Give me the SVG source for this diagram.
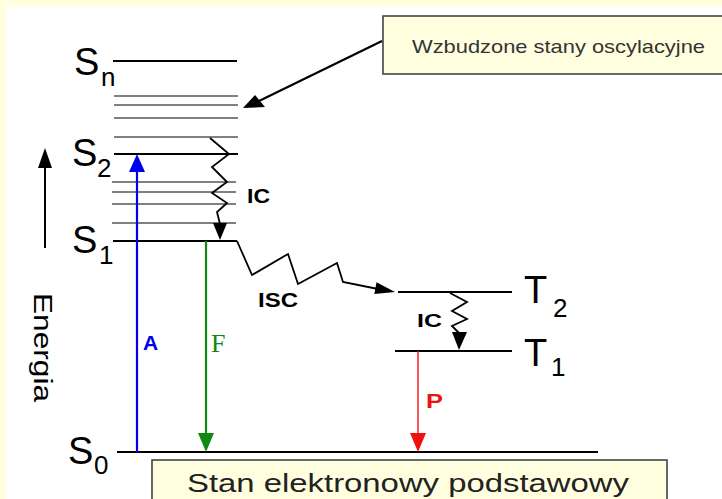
<svg xmlns="http://www.w3.org/2000/svg" width="722" height="499" viewBox="0 0 722 499">
<style>
.lvl{stroke:#000;stroke-width:2.2;fill:none}
.vib{stroke:#808080;stroke-width:2;fill:none}
.lab{font-family:"Liberation Sans",Arial,sans-serif;fill:#000}
.big{font-size:38px}
.sub{font-size:26px}
.bold{font-family:"Liberation Sans",Arial,sans-serif;font-weight:bold}
.zz{stroke:#000;stroke-width:1.8;fill:none;stroke-linejoin:miter}
.box{fill:#FFFFE0;stroke:#444;stroke-width:1.6}
</style>
<rect x="0" y="0" width="722" height="499" fill="#fff"/>
<rect x="0" y="0" width="722" height="7" fill="#FFFFE0"/>
<rect x="0" y="0" width="6" height="499" fill="#FFFFE0"/>

<g id="box-top">
<rect class="box" x="383" y="16" width="345" height="58"/>
<text x="412" y="53" font-family="Liberation Sans,Arial,sans-serif" font-size="19" fill="#333" textLength="293" lengthAdjust="spacingAndGlyphs">Wzbudzone stany oscylacyjne</text>
</g>

<g id="box-bottom">
<rect class="box" x="152" y="460" width="515" height="50"/>
<text x="187" y="492" font-family="Liberation Sans,Arial,sans-serif" font-size="26" fill="#222" textLength="442" lengthAdjust="spacingAndGlyphs">Stan elektronowy podstawowy</text>
</g>

<g id="energy-axis">
<line x1="45" y1="248" x2="45" y2="165" stroke="#000" stroke-width="2"/>
<polygon points="45,148 38,168 52,168" fill="#000"/>
<text class="lab" transform="translate(34,293) rotate(90)" font-size="25" textLength="109" lengthAdjust="spacingAndGlyphs">Energia</text>
</g>

<g id="Sn">
<line class="lvl" x1="113" y1="61" x2="237" y2="61"/>
<text class="lab big" x="74" y="75">S</text>
<text class="lab sub" x="101" y="86">n</text>
</g>
<g id="vib-upper">
<line class="vib" x1="114" y1="96" x2="238" y2="96"/>
<line class="vib" x1="114" y1="105" x2="238" y2="105"/>
<line class="vib" x1="114" y1="118" x2="238" y2="118"/>
<line class="vib" x1="114" y1="137" x2="238" y2="137"/>
</g>
<g id="S2">
<line class="lvl" x1="114" y1="154" x2="238" y2="154"/>
<text class="lab big" x="72" y="166">S</text>
<text class="lab sub" x="97" y="177">2</text>
</g>
<g id="vib-lower">
<line class="vib" x1="112" y1="182" x2="236" y2="182"/>
<line class="vib" x1="112" y1="192" x2="236" y2="192"/>
<line class="vib" x1="112" y1="204" x2="236" y2="204"/>
<line class="vib" x1="112" y1="223" x2="236" y2="223"/>
</g>
<g id="S1">
<line class="lvl" x1="113" y1="241" x2="237" y2="241"/>
<text class="lab big" x="72" y="253">S</text>
<text class="lab sub" x="99" y="264">1</text>
</g>
<g id="S0">
<line class="lvl" x1="117" y1="452" x2="598" y2="452"/>
<text class="lab big" x="68" y="464">S</text>
<text class="lab sub" x="94" y="474">0</text>
</g>
<g id="T2">
<line class="lvl" x1="398" y1="292" x2="512" y2="292"/>
<text class="lab big" x="524" y="303">T</text>
<text class="lab sub" x="553" y="317">2</text>
</g>
<g id="T1">
<line class="lvl" x1="395" y1="351" x2="512" y2="351"/>
<text class="lab big" x="524" y="366">T</text>
<text class="lab sub" x="551" y="376">1</text>
</g>

<g id="connectors">
<path d="M382,41 Q322,70 259,101" stroke="#000" stroke-width="2.2" fill="none"/>
<polygon points="243,108 255,95 265,107" fill="#000"/>
<line x1="137" y1="452" x2="137" y2="170" stroke="#0000EE" stroke-width="2.2"/>
<polygon points="137,154 129,172 145,172" fill="#0000EE"/>
<line x1="206" y1="241" x2="206" y2="436" stroke="#118811" stroke-width="2.2"/>
<polygon points="206,452 198,433 214,433" fill="#118811"/>
<line x1="418" y1="351" x2="418" y2="436" stroke="#EE1111" stroke-width="1.4"/>
<polygon points="418,452 410,433 426,433" fill="#EE1111"/>
<path class="zz" d="M210,138 L229,154 L212,167 L227,182 L212,193 L227,203 L217,212 L220,224"/>
<polygon points="213,223 227,223 220,240" fill="#000"/>
<path class="zz" d="M237,241 L252,275 L288,254 L298,284 L337,263 L343,282 L378,289"/>
<polygon points="395,292 376.5,282.3 374.3,294.1" fill="#000"/>
<path class="zz" d="M450,293 L467,302 L452,311 L467,319 L452,326 L460,334"/>
<polygon points="452,332 467,332 459,350" fill="#000"/>
</g>

<g id="labels">
<text class="bold" x="143" y="350" font-size="21" fill="#0000EE">A</text>
<text x="211" y="352" font-family="Liberation Serif,Times New Roman,serif" font-size="26" fill="#118811">F</text>
<text class="bold" x="426" y="408" font-size="21" fill="#EE1111" textLength="17" lengthAdjust="spacingAndGlyphs">P</text>
<text class="bold" x="247" y="203" font-size="21" textLength="23" lengthAdjust="spacingAndGlyphs">IC</text>
<text class="bold" x="258" y="307" font-size="21" textLength="40" lengthAdjust="spacingAndGlyphs">ISC</text>
<text class="bold" x="417" y="327" font-size="19" textLength="25" lengthAdjust="spacingAndGlyphs">IC</text>
</g>
</svg>
